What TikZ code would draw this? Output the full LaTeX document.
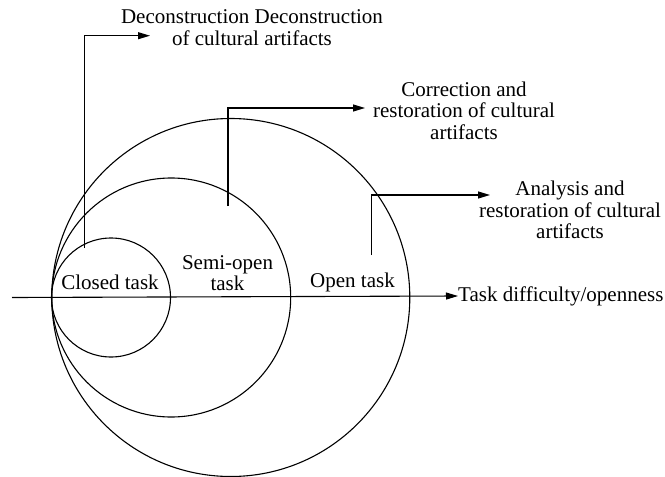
\documentclass[tikz,border=0pt]{standalone}
\usepackage{fontspec}
\setmainfont{Liberation Serif}
\usetikzlibrary{arrows.meta}
\begin{document}
\begin{tikzpicture}[x=1pt,y=-1pt,
  line/.style={line width=1.1pt},
  arr/.style={line, -{Triangle[length=12pt,width=7pt]}},
  ring/.style={circle, draw, line width=1.1pt, inner sep=0pt},
  lbl/.style={font=\fontsize{21}{21.5}\selectfont, align=center, inner sep=0pt}
]
\useasboundingbox (0,0) rectangle (665,477);
% circles
\node[ring, minimum size=119pt] (c1) at (111,297.5) {};
\node[ring, minimum size=239pt] (c2) at (171.2,297.5) {};
\node[ring, minimum size=358pt] (c3) at (230.8,297.5) {};
% axis
\coordinate (ax0) at (12,297.5);
\node[lbl, anchor=west] (axl) at (458,296) {Task difficulty/openness};
\draw[arr] (ax0) -- (axl.west);
% task labels
\node[lbl] (closed) at (110,282) {Closed task};
\node[lbl] (semi) at (227.5,273) {Semi-open\\task};
\node[lbl] (open) at (352.5,282) {Open task};
% callout texts
\node[lbl] (t1) at (252,27.5) {Deconstruction Deconstruction\\of cultural artifacts};
\node[lbl] (t2) at (464,110.5) {Correction and\\restoration of cultural\\artifacts};
\node[lbl] (t3) at (570,210) {Analysis and\\restoration of cultural\\artifacts};
% callout connectors
\coordinate (s1) at (84.3,248);
\coordinate (e1) at (150,35.7);
\coordinate (s2) at (228,206);
\coordinate (e2) at (365,108);
\coordinate (s3) at (371.7,255);
\coordinate (e3) at (490,195);
\draw[arr] (s1) |- (e1);
\draw[arr] (s2) |- (e2);
\draw[arr] (s3) |- (e3);
\end{tikzpicture}
\end{document}
